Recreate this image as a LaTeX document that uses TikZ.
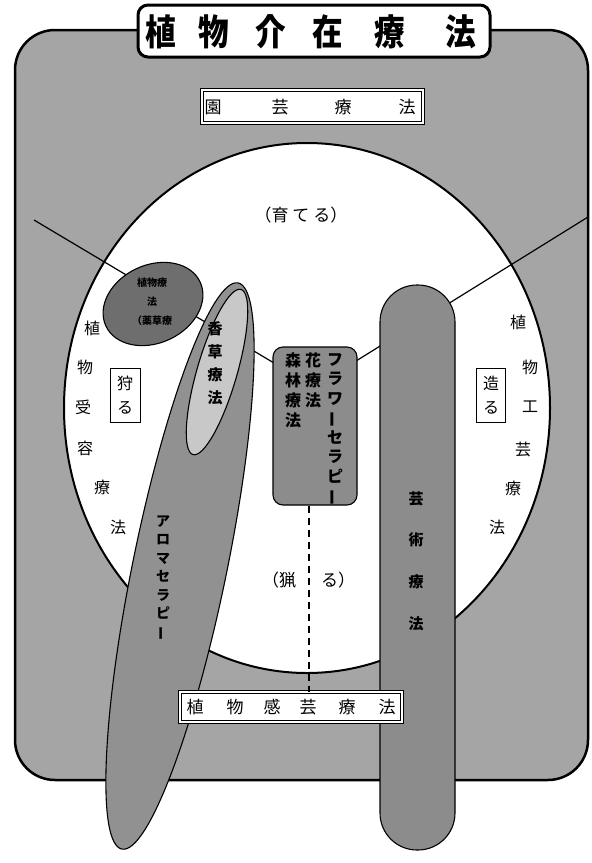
\documentclass[tikz,border=0pt]{standalone}
\usepackage{fontspec}
\newfontfamily\jp{Noto Sans CJK JP}
\usetikzlibrary{shapes.geometric}
\definecolor{bgray}{RGB}{165,165,165}
\definecolor{fgray}{RGB}{140,140,140}
\definecolor{dgray}{RGB}{110,110,110}
\definecolor{agray}{RGB}{145,145,145}
\definecolor{lgray}{RGB}{200,200,200}
\begin{document}
\begin{tikzpicture}[x=1pt,y=-1pt,
  jpf/.style={font=\jp\fontsize{#1}{#1}\selectfont, inner sep=0pt},
  vst/.style n args={2}{font=\jp\fontsize{#1}{#2}\selectfont, align=center, inner sep=0pt},
  vsb/.style n args={2}{font=\jp\bfseries\fontsize{#1}{#2}\selectfont, align=center, inner sep=0pt},
  dbox/.style={draw, double, double distance=1.6pt, line width=1pt, fill=white, inner sep=0pt},
  lbox/.style={draw, line width=1pt, fill=white, inner sep=0pt, align=center},
  shp/.style={draw, line width=1.1pt, inner sep=0pt},
  divline/.style={line width=1.2pt}]
\useasboundingbox (0,0) rectangle (592,863);
% outer frame
\draw[line width=2.5pt, fill=bgray, rounded corners=40pt] (15,30) rectangle (588,780);
% 園芸療法 box
\node[dbox, minimum width=221pt, minimum height=33pt] (engei) at (312.5,106.5) {};
\node[jpf=17] (e1) at (213,107) {園};
\node[jpf=17] (e2) at (280,107) {芸};
\node[jpf=17] (e3) at (343,107) {療};
\node[jpf=17] (e4) at (407,107) {法};
% big circle
\node[ellipse, draw, line width=2pt, fill=white, minimum width=486pt, minimum height=530pt, inner sep=0pt] (circ) at (307,408) {};
% dividing lines
\coordinate (L0) at (34,220);
\coordinate (FL) at (274,363);
\coordinate (R0) at (588,217);
\coordinate (FR) at (356,361);
\draw[divline] (L0) -- (FL);
\draw[divline] (R0) -- (FR);
% texts in circle
\node[jpf=17] (sodateru) at (301,215) {（育 て る）};
\node[jpf=17] (kari1) at (279,580) {（猟};
\node[jpf=17] (kari2) at (338,580) {る）};
% left arc labels
\node[jpf=16] (lt1) at (92,328) {植};
\node[jpf=16] (lt2) at (85,367) {物};
\node[jpf=16] (lt3) at (83,407) {受};
\node[jpf=16] (lt4) at (85,448) {容};
\node[jpf=16] (lt5) at (102,487) {療};
\node[jpf=16] (lt6) at (118,527) {法};
% right arc labels
\node[jpf=16] (rt1) at (518,322) {植};
\node[jpf=16] (rt2) at (530,367) {物};
\node[jpf=16] (rt3) at (530,407) {工};
\node[jpf=16] (rt4) at (523,450) {芸};
\node[jpf=16] (rt5) at (513,488) {療};
\node[jpf=16] (rt6) at (497,527) {法};
% 狩る / 造る
\node[lbox, minimum width=30pt, minimum height=54pt, vst={16}{24}] (karu) at (125,395) {狩\\る};
\node[lbox, minimum width=29pt, minimum height=54pt, vst={16}{24}] (tsukuru) at (491,395) {造\\る};
% small herbal ellipse
\node[ellipse, shp, fill=dgray, minimum width=104pt, minimum height=78pt, rotate=25] (yakuso) at (153,304) {};
\node[vsb={10}{19}] (yakusotxt) at (152,302) {植物療\\法\\（薬草療};
% aroma ellipse
\node[ellipse, shp, fill=agray, minimum width=94pt, minimum height=578pt, rotate=-11.6] (aroma) at (180,566) {};
\node[vsb={14}{18.5}] (aromatxt) at (163,578) {ア\\ロ\\マ\\セ\\ラ\\ピ\\\rotatebox[origin=c]{90}{ー}};
% herb ellipse
\node[ellipse, shp, fill=lgray, minimum width=40pt, minimum height=172pt, rotate=-16.2] (kousou) at (217,372) {};
\node[vsb={15}{23}] (kousoutxt) at (215,363) {香\\草\\療\\法};
% flower box
\node[shp, fill=fgray, rounded corners=10pt, minimum width=84pt, minimum height=158pt] (flower) at (315,426) {};
\node[vsb={16}{20}, anchor=north] (shinrin) at (293,353) {森\\林\\療\\法};
\node[vsb={16}{20}, anchor=north] (hana) at (313,353) {花\\療\\法};
\node[vsb={16}{19.5}, anchor=north] (flowertxt) at (335,353) {フ\\ラ\\ワ\\\rotatebox[origin=c]{90}{ー}\\セ\\ラ\\ピ\\\rotatebox[origin=c]{90}{ー}};
% art therapy bar
\node[shp, fill=fgray, rounded corners=37pt, minimum width=75pt, minimum height=565pt] (geijutsu) at (417.5,567.5) {};
\node[vsb={15}{41.7}] (geijutsutxt) at (416,561) {芸\\術\\療\\法};
% 植物感芸療法 box
\node[dbox, minimum width=222pt, minimum height=30pt] (kansei) at (291,707) {};
\coordinate (dashx) at (309,0);
\draw[line width=1.3pt, dash pattern=on 7pt off 5pt] (flower.south -| dashx) -- (kansei.north -| dashx);
\node[jpf=17] (k1) at (195,707) {植};
\node[jpf=17] (k2) at (235,707) {物};
\node[jpf=17] (k3) at (272,707) {感};
\node[jpf=17] (k4) at (308,707) {芸};
\node[jpf=17] (k5) at (347,707) {療};
\node[jpf=17] (k6) at (387,707) {法};
% title box
\node[draw, line width=3pt, fill=white, rounded corners=10pt, minimum width=352pt, minimum height=52pt, inner sep=0pt] (title) at (314,31) {};
\foreach \c/\x [count=\i] in {植/161,物/214,介/271,在/328,療/390,法/461}
  \node[font=\jp\bfseries\fontsize{36}{36}\selectfont, inner sep=0pt, xscale=0.85] (t\i) at (\x,32) {\c};
\end{tikzpicture}
\end{document}
